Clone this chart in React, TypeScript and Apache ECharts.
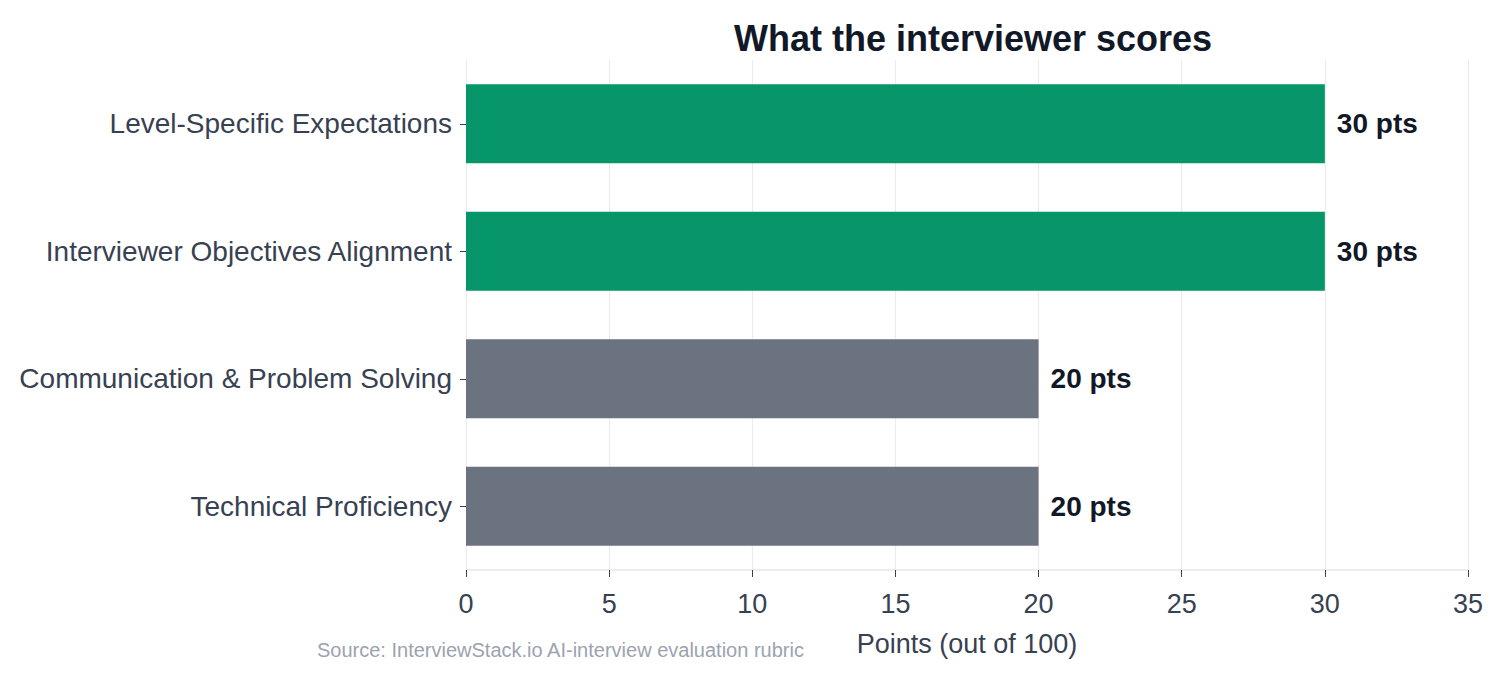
import React, { useEffect, useRef } from 'react';
import * as echarts from 'echarts';

const categories = [
  'Technical Proficiency',
  'Communication & Problem Solving',
  'Interviewer Objectives Alignment',
  'Level-Specific Expectations',
];
const points = [20, 20, 30, 30];
const barColors = ['#6b7280', '#6b7280', '#079669', '#079669'];

const FONT = '"Liberation Sans", Arial, Helvetica, sans-serif';

const App: React.FC = () => {
  const chartRef = useRef<HTMLDivElement>(null);

  useEffect(() => {
    if (!chartRef.current) return;
    const chart = echarts.init(chartRef.current, undefined, { renderer: 'svg' });

    const option: echarts.EChartsOption = {
      animation: false,
      backgroundColor: '#ffffff',
      textStyle: { fontFamily: FONT },
      title: {
        text: 'What the interviewer scores',
        left: 968,
        textAlign: 'center',
        top: 15,
        textStyle: { fontSize: 36, fontWeight: 'bold', color: '#111827', fontFamily: FONT },
      },
      grid: { left: 466, right: 32, top: 60, bottom: 105 },
      xAxis: {
        type: 'value',
        min: 0,
        max: 35,
        interval: 5,
        name: 'Points (out of 100)',
        nameLocation: 'middle',
        nameGap: 60,
        nameTextStyle: { fontSize: 27, color: '#374151', fontFamily: FONT },
        axisLine: { show: true, lineStyle: { color: '#e5e7eb', width: 1.5 } },
        axisTick: { show: true, length: 7, lineStyle: { color: '#374151' } },
        axisLabel: { fontSize: 27, color: '#374151', margin: 20, fontFamily: FONT },
        splitLine: { show: true, lineStyle: { color: '#ececef', width: 1.2 } },
      },
      yAxis: {
        type: 'category',
        data: categories,
        axisLine: { show: false },
        axisTick: { show: true, length: 6, alignWithLabel: true, lineStyle: { color: '#374151' } },
        axisLabel: {
          fontSize: 28,
          color: '#374151',
          margin: 14,
          fontFamily: FONT,
          padding: [6, 0, 0, 0],
        },
        splitLine: { show: false },
      },
      series: [
        {
          type: 'bar',
          data: points.map((v, i) => ({ value: v, itemStyle: { color: barColors[i] } })),
          barWidth: '62%',
          label: {
            show: true,
            position: 'right',
            distance: 12,
            formatter: (p: any) => `${p.value} pts`,
            fontSize: 28,
            fontWeight: 'bold',
            color: '#111827',
            fontFamily: FONT,
          },
        },
      ],
      graphic: [
        {
          type: 'text',
          left: 317,
          top: 640,
          style: {
            text: 'Source: InterviewStack.io AI-interview evaluation rubric',
            fontSize: 20,
            fill: '#9ca3af',
            fontFamily: FONT,
          },
        },
      ],
    };

    chart.setOption(option);
    const handleResize = () => chart.resize();
    window.addEventListener('resize', handleResize);
    return () => {
      window.removeEventListener('resize', handleResize);
      chart.dispose();
    };
  }, []);

  return (
    <div
      ref={chartRef}
      style={{ position: 'fixed', left: 0, top: 0, width: '1500px', height: '675px' }}
    />
  );
};

export default App;
